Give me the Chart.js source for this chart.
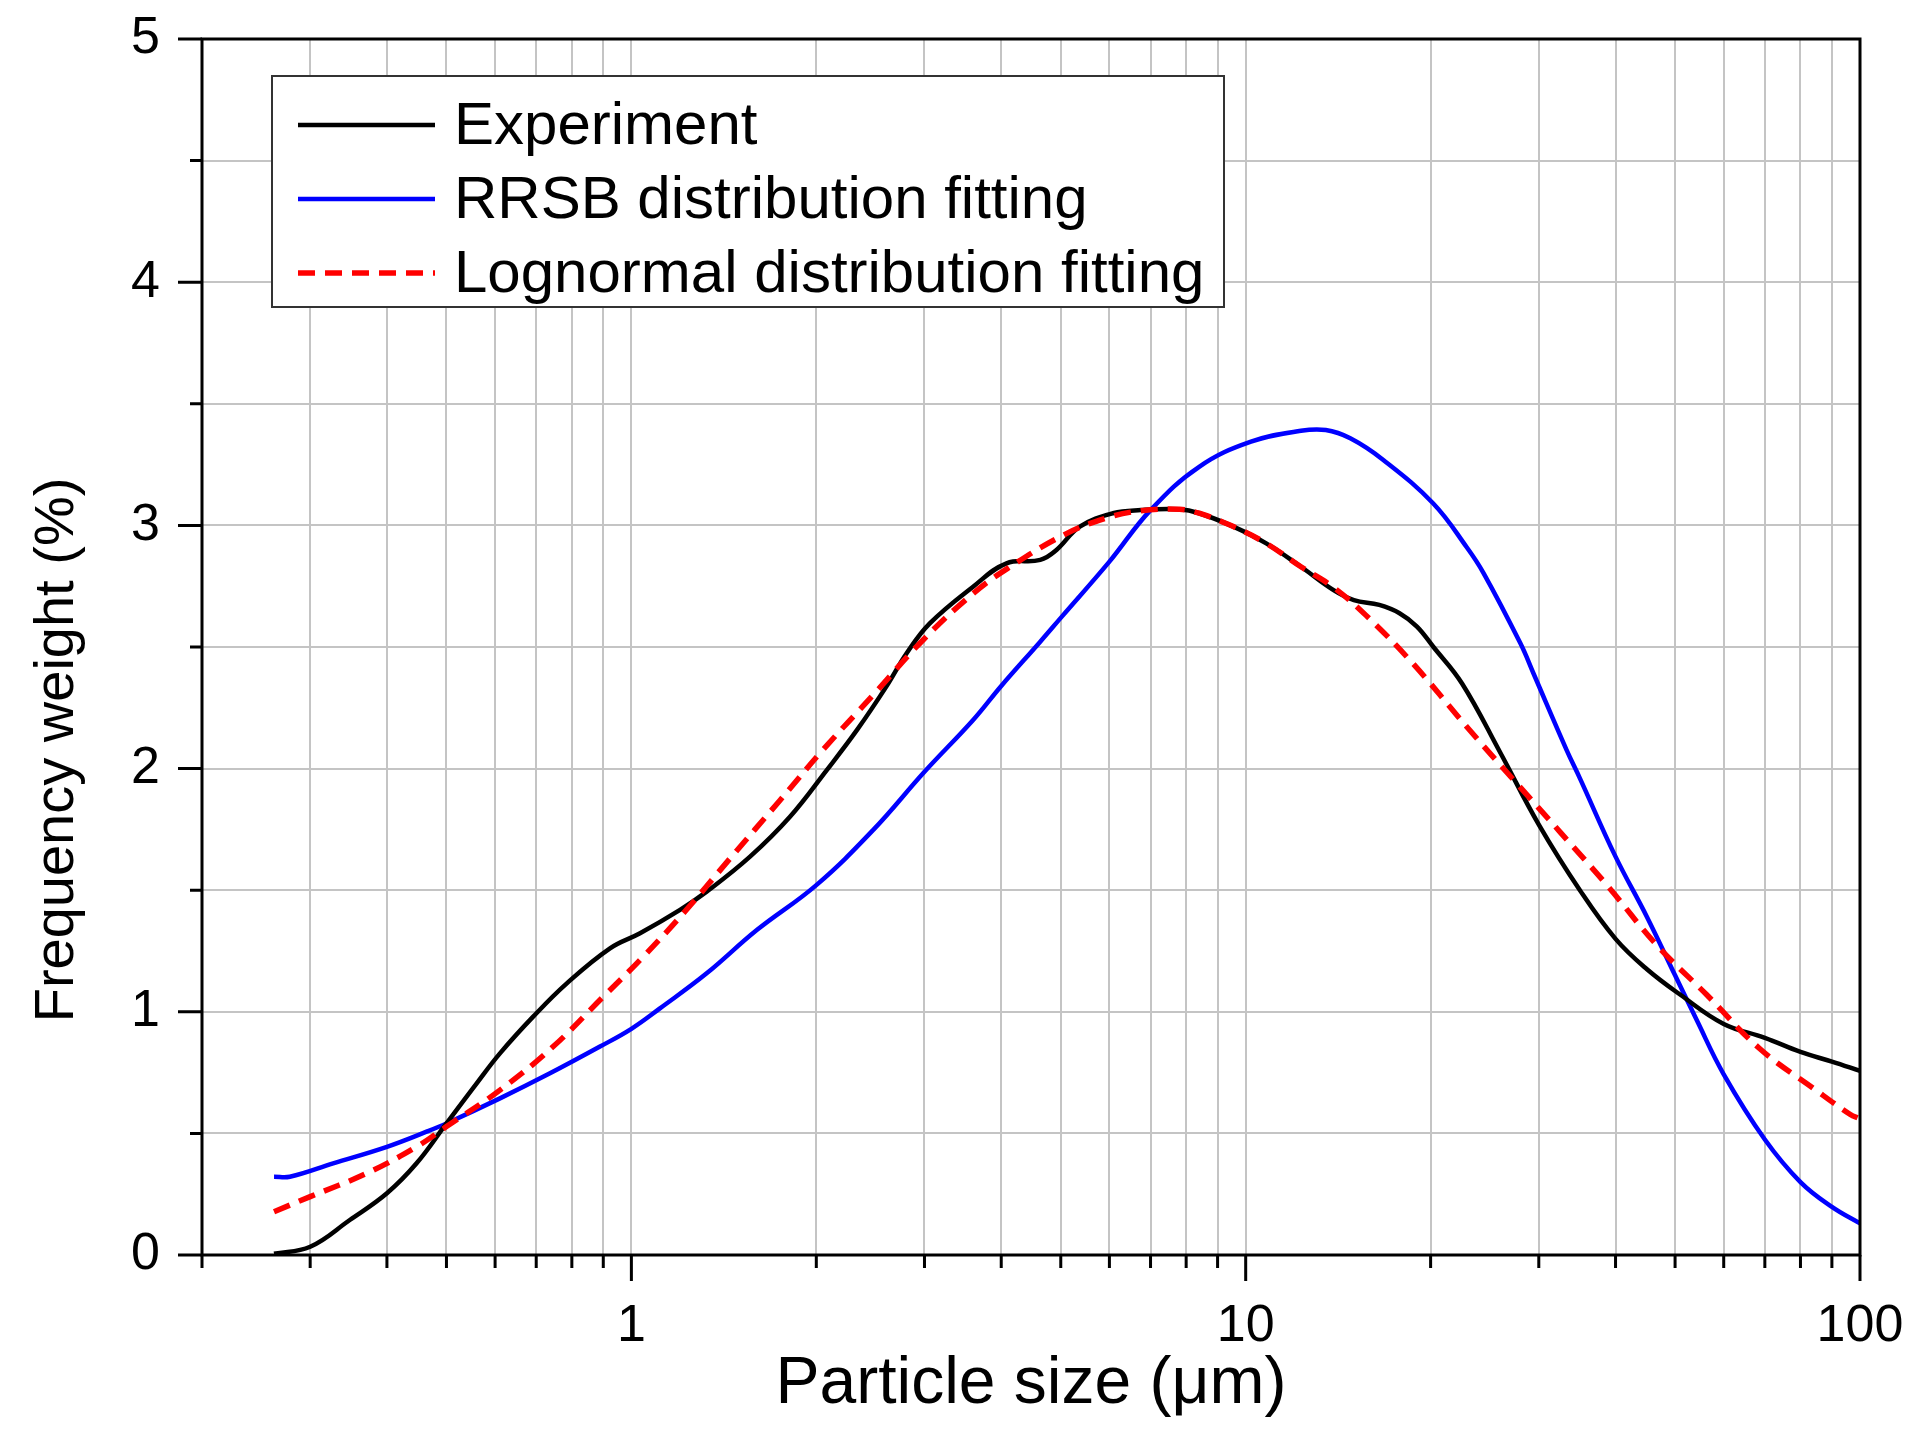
<!DOCTYPE html>
<html>
<head>
<meta charset="utf-8">
<title>Particle size distribution</title>
<script src="https://cdn.jsdelivr.net/npm/chart.js@4.4.1/dist/chart.umd.min.js"></script>
<style>
  html, body { margin: 0; padding: 0; background: #fff; }
  canvas { display: block; }
</style>
</head>
<body>
<canvas id="psd" width="1923" height="1437"></canvas>
<script>
// Particle size (um) vs frequency weight (%)
const expSize = [0.262, 0.30, 0.348, 0.40, 0.447, 0.50, 0.56, 0.611, 0.692, 0.785, 0.923, 1.033, 1.2, 1.326, 1.56, 1.812, 2.08, 2.33, 2.6, 2.806, 3.06, 3.6, 4.08, 4.63, 4.92, 5.37, 6.08, 6.75, 7.8, 8.4, 9.55, 10.8, 12.3, 13.9, 15.0, 16.5, 17.8, 19.0, 20.2, 22.5, 26.0, 30, 35, 40, 45, 51, 60, 70, 80, 90, 100];
const expFreq = [0.005, 0.034, 0.144, 0.254, 0.377, 0.541, 0.706, 0.829, 0.98, 1.117, 1.261, 1.323, 1.419, 1.494, 1.638, 1.802, 1.994, 2.159, 2.337, 2.474, 2.597, 2.748, 2.844, 2.858, 2.899, 2.995, 3.05, 3.063, 3.066, 3.05, 2.995, 2.926, 2.83, 2.734, 2.693, 2.673, 2.639, 2.584, 2.501, 2.35, 2.063, 1.77, 1.50, 1.30, 1.175, 1.07, 0.95, 0.893, 0.835, 0.795, 0.757];

const rrsbSize = [0.262, 0.278, 0.327, 0.40, 0.464, 0.50, 0.611, 0.737, 0.889, 1.0, 1.113, 1.326, 1.6, 2.0, 2.476, 3.0, 3.6, 4.0, 4.63, 5.02, 6.0, 7.0, 8.4, 10.2, 12.3, 13.5, 14.8, 16.75, 20.2, 22.9, 24.4, 28.0, 29.4, 33.3, 35, 40, 45, 50, 54.2, 60, 70, 80, 90, 100];
const rrsbFreq = [0.322, 0.322, 0.377, 0.445, 0.507, 0.541, 0.644, 0.747, 0.857, 0.93, 1.014, 1.158, 1.336, 1.521, 1.748, 1.987, 2.2, 2.34, 2.522, 2.625, 2.851, 3.063, 3.241, 3.344, 3.389, 3.392, 3.358, 3.269, 3.09, 2.91, 2.803, 2.515, 2.392, 2.076, 1.96, 1.638, 1.39, 1.15, 0.967, 0.743, 0.475, 0.30, 0.198, 0.13];

const logSize = [0.262, 0.30, 0.371, 0.447, 0.50, 0.611, 0.746, 0.90, 1.033, 1.215, 1.447, 1.746, 2.05, 2.476, 2.987, 3.6, 4.08, 5.05, 5.93, 6.75, 7.8, 8.4, 9.55, 10.8, 12.3, 13.9, 15.7, 18.7, 22.9, 27.6, 32.5, 38.7, 46.7, 56.3, 68.7, 84.1, 96.3, 100];
const logFreq = [0.178, 0.24, 0.336, 0.445, 0.528, 0.678, 0.857, 1.062, 1.213, 1.405, 1.63, 1.87, 2.077, 2.303, 2.53, 2.72, 2.82, 2.96, 3.03, 3.06, 3.066, 3.05, 2.995, 2.926, 2.83, 2.745, 2.63, 2.433, 2.172, 1.94, 1.739, 1.522, 1.274, 1.07, 0.848, 0.684, 0.579, 0.56];

// axis ticks
const xTicks = [0.2, 0.3, 0.4, 0.5, 0.6, 0.7, 0.8, 0.9, 1, 2, 3, 4, 5, 6, 7, 8, 9, 10, 20, 30, 40, 50, 60, 70, 80, 90, 100];
const xLabels = [1, 10, 100];
const yTicks = [0, 0.5, 1, 1.5, 2, 2.5, 3, 3.5, 4, 4.5, 5];
const yLabels = [0, 1, 2, 3, 4, 5];

const FONT = "'Liberation Sans', Arial, sans-serif";

function toPoints(xs, ys) {
    return xs.map((v, i) => ({ x: v, y: ys[i] }));
}

// draws ticks (long ones where labelled), the frame and the axis titles
const frame = {
    id: 'frame',
    afterDraw(chart) {
        const { ctx, chartArea: a, scales: { x, y } } = chart;
        ctx.save();
        ctx.strokeStyle = '#000';
        ctx.lineWidth = 3;
        ctx.beginPath();
        x.ticks.forEach((t) => {
            const px = x.getPixelForValue(t.value);
            const len = xLabels.includes(t.value) ? 26 : 13;
            ctx.moveTo(px, a.bottom);
            ctx.lineTo(px, a.bottom + len);
        });
        y.ticks.forEach((t) => {
            const py = y.getPixelForValue(t.value);
            const len = yLabels.includes(t.value) ? 24 : 12;
            ctx.moveTo(a.left, py);
            ctx.lineTo(a.left - len, py);
        });
        ctx.stroke();
        ctx.strokeRect(a.left, a.top, a.right - a.left, a.bottom - a.top);

        ctx.fillStyle = '#000';
        ctx.textAlign = 'center';
        ctx.textBaseline = 'middle';
        ctx.font = '66px ' + FONT;
        ctx.fillText('Particle size (\u03bcm)', (a.left + a.right) / 2, 1385);
        ctx.translate(58, 750);
        ctx.rotate(-Math.PI / 2);
        ctx.font = '56px ' + FONT;
        ctx.fillText('Frequency weight (%)', 0, 0);
        ctx.restore();
    }
};

// legend box inside the plot, top left
const boxLegend = {
    id: 'boxLegend',
    afterDatasetsDraw(chart) {
        const { ctx, chartArea: a } = chart;
        const bx = a.left + 70;
        const by = a.top + 37;
        ctx.save();
        ctx.fillStyle = '#fff';
        ctx.fillRect(bx, by, 952, 231);
        ctx.strokeStyle = '#333';
        ctx.lineWidth = 2;
        ctx.strokeRect(bx, by, 952, 231);
        ctx.font = '60px ' + FONT;
        ctx.textBaseline = 'middle';
        chart.data.datasets.forEach((ds, i) => {
            const ly = by + 49 + i * 74;
            ctx.strokeStyle = ds.borderColor;
            ctx.lineWidth = ds.borderWidth;
            ctx.setLineDash(ds.borderDash || []);
            ctx.beginPath();
            ctx.moveTo(bx + 26, ly);
            ctx.lineTo(bx + 163, ly);
            ctx.stroke();
            ctx.setLineDash([]);
            ctx.fillStyle = '#000';
            ctx.fillText(ds.label, bx + 182, ly + 2);
        });
        ctx.restore();
    }
};

const ctx = document.getElementById('psd').getContext('2d');

new Chart(ctx, {
    type: 'line',
    data: {
        datasets: [
            {
                label: 'Experiment',
                data: toPoints(expSize, expFreq),
                borderColor: '#000000',
                borderWidth: 4.5,
                order: 2,
            },
            {
                label: 'RRSB distribution fitting',
                data: toPoints(rrsbSize, rrsbFreq),
                borderColor: '#0000ff',
                borderWidth: 4.5,
                order: 3,
            },
            {
                label: 'Lognormal distribution fitting',
                data: toPoints(logSize, logFreq),
                borderColor: '#ff0000',
                borderWidth: 5.5,
                borderDash: [17, 10],
                order: 1,
            },
        ],
    },
    options: {
        responsive: false,
        animation: false,
        events: [],
        elements: {
            point: { radius: 0 },
            line: { tension: 0.4, fill: false },
        },
        layout: {
            padding: { left: 0, top: 39, right: 63, bottom: 0 },
        },
        plugins: {
            legend: { display: false },
            tooltip: { enabled: false },
        },
        scales: {
            x: {
                type: 'logarithmic',
                min: 0.2,
                max: 100,
                afterBuildTicks: (scale) => {
                    scale.ticks = xTicks.map((v) => ({ value: v }));
                },
                // fixed band under the plot; label overhang is covered by layout padding
                afterFit: (scale) => {
                    scale.height = 182;
                    scale.paddingLeft = 0;
                    scale.paddingRight = 0;
                },
                ticks: {
                    autoSkip: false,
                    maxRotation: 0,
                    padding: 40,
                    color: '#000',
                    font: { family: FONT, size: 52 },
                    callback: (value) => (xLabels.includes(value) ? String(value) : ''),
                },
                grid: {
                    color: '#c4c4c4',
                    lineWidth: 2,
                    drawTicks: false,
                },
                border: { display: false },
            },
            y: {
                type: 'linear',
                min: 0,
                max: 5,
                afterBuildTicks: (scale) => {
                    scale.ticks = yTicks.map((v) => ({ value: v }));
                },
                afterFit: (scale) => {
                    scale.width = 202;
                    scale.paddingTop = 0;
                    scale.paddingBottom = 0;
                },
                ticks: {
                    autoSkip: false,
                    padding: 42,
                    color: '#000',
                    font: { family: FONT, size: 52 },
                    callback: (value) => (yLabels.includes(value) ? String(value) : ''),
                },
                grid: {
                    color: '#c4c4c4',
                    lineWidth: 2,
                    drawTicks: false,
                },
                border: { display: false },
            },
        },
    },
    plugins: [boxLegend, frame],
});
</script>
</body>
</html>
